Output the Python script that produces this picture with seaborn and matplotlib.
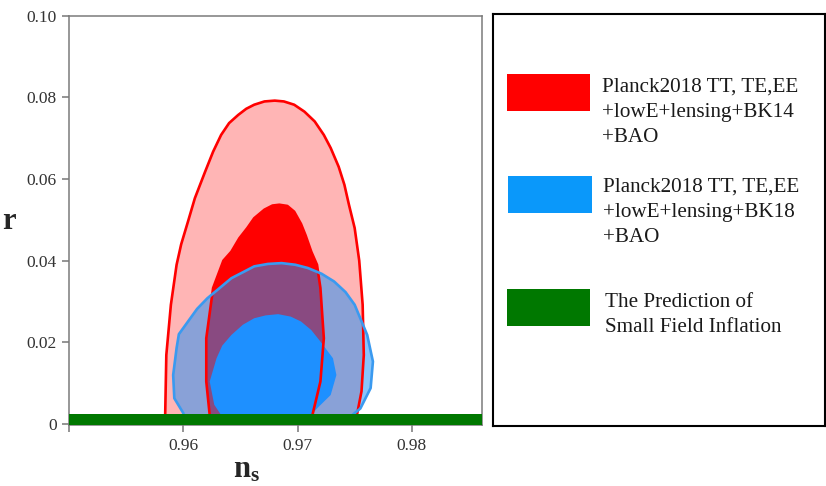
import numpy as np
import pandas as pd
import matplotlib
matplotlib.use("Agg")
import matplotlib.pyplot as plt
import seaborn as sns
from matplotlib.patches import Rectangle

# Contours (n_s, r), closed at r = 0
# Planck2018 + BK14 + BAO, 95% region
bk14_95_ns = [0.9584, 0.9584, 0.9585, 0.9589, 0.9594, 0.9598, 0.9604, 0.9610, 0.9619,
              0.9626, 0.9633, 0.9640, 0.9648, 0.9655, 0.9662, 0.9671, 0.9680, 0.9688,
              0.9697, 0.9706, 0.9715, 0.9723, 0.9729, 0.9736, 0.9741, 0.9745, 0.9750,
              0.9754, 0.9757, 0.9758, 0.9756, 0.9752, 0.9752]
bk14_95_r = [0.0, 0.0022, 0.0169, 0.0292, 0.0390, 0.0440, 0.0496, 0.0553, 0.0618,
             0.0667, 0.0708, 0.0737, 0.0757, 0.0772, 0.0782, 0.0790, 0.0792, 0.0790,
             0.0782, 0.0765, 0.0741, 0.0708, 0.0676, 0.0630, 0.0586, 0.0537, 0.0480,
             0.0400, 0.0292, 0.0169, 0.0080, 0.0022, 0.0]
# Planck2018 + BK14 + BAO, 68% region
bk14_68_ns = [0.9623, 0.9623, 0.9620, 0.9620, 0.9626, 0.9635, 0.9642, 0.9649, 0.9656,
              0.9662, 0.9671, 0.9678, 0.9684, 0.9691, 0.9697, 0.9703, 0.9707, 0.9712,
              0.9717, 0.9720, 0.9723, 0.9720, 0.9713, 0.9713]
bk14_68_r = [0.0, 0.0022, 0.0104, 0.0210, 0.0333, 0.0400, 0.0422, 0.0455, 0.0480,
             0.0504, 0.0525, 0.0535, 0.0537, 0.0534, 0.0520, 0.0490, 0.0462, 0.0422,
             0.0390, 0.0333, 0.0210, 0.0104, 0.0022, 0.0]
# Planck2018 + BK18 + BAO, 95% region
bk18_95_ns = [0.9600, 0.9600, 0.9592, 0.9591, 0.9594, 0.9596, 0.9604, 0.9612, 0.9621,
              0.9642, 0.9662, 0.9674, 0.9686, 0.9698, 0.9709, 0.9721, 0.9732, 0.9742,
              0.9750, 0.9761, 0.9766, 0.9764, 0.9755, 0.9748, 0.9745]
bk18_95_r = [0.0, 0.0026, 0.0063, 0.0120, 0.0186, 0.0220, 0.0251, 0.0282, 0.0308,
             0.0357, 0.0386, 0.0392, 0.0394, 0.0390, 0.0382, 0.0368, 0.0349, 0.0323,
             0.0292, 0.0218, 0.0153, 0.0088, 0.0038, 0.0022, 0.0]
# Planck2018 + BK18 + BAO, 68% region
bk18_68_ns = [0.9633, 0.9633, 0.9627, 0.9623, 0.9629, 0.9634, 0.9642, 0.9652, 0.9662,
              0.9672, 0.9683, 0.9694, 0.9703, 0.9712, 0.9720, 0.9731, 0.9734, 0.9729,
              0.9717, 0.9712, 0.9712]
bk18_68_r = [0.0, 0.0022, 0.0047, 0.0104, 0.0161, 0.0192, 0.0218, 0.0243, 0.0259,
             0.0266, 0.0269, 0.0263, 0.0251, 0.0230, 0.0202, 0.0161, 0.0120, 0.0071,
             0.0038, 0.0022, 0.0]

# small field inflation band: r range
small_field_r = [-0.0005, 0.0025]

xticks = [0.95, 0.96, 0.97, 0.98]
xtick_labels = ["", "0.96", "0.97", "0.98"]
yticks = [0, 0.02, 0.04, 0.06, 0.08, 0.10]
ytick_labels = ["0", "0.02", "0.04", "0.06", "0.08", "0.10"]

legend_labels = ["Planck2018 TT, TE,EE\n+lowE+lensing+BK14\n+BAO",
                 "Planck2018 TT, TE,EE\n+lowE+lensing+BK18\n+BAO",
                 "The Prediction of\nSmall Field Inflation"]
legend_colors = ["#ff0000", "#0a98fa", "#007800"]

sns.set_style("ticks")
plt.rcParams['font.family'] = ['Liberation Serif', 'DejaVu Serif']
plt.rcParams['mathtext.fontset'] = 'custom'
plt.rcParams['mathtext.bf'] = 'Liberation Serif:bold'

fig = plt.figure(figsize=(8.26, 4.86), dpi=100)
ax = fig.add_axes([69.3 / 826, 61 / 486, 413.2 / 826, 409.3 / 486])

# fills
ax.fill(bk14_95_ns, bk14_95_r, color="#ffb5b5", lw=0, zorder=1)
ax.fill(bk14_68_ns, bk14_68_r, color="#ff0000", lw=0, zorder=2)
ax.fill(bk18_95_ns, bk18_95_r, color="#1e8ff8", alpha=0.52, lw=0, zorder=3)
ax.fill(bk18_68_ns, bk18_68_r, color="#1e90ff", lw=0, zorder=4)

# outlines
for xs, ys, col, z in [(bk14_95_ns, bk14_95_r, "#ff0000", 5),
                       (bk14_68_ns, bk14_68_r, "#ff0000", 5),
                       (bk18_95_ns, bk18_95_r, "#3a9af0", 6)]:
    df = pd.DataFrame({"ns": xs + xs[:1], "r": ys + ys[:1]})
    sns.lineplot(data=df, x="ns", y="r", sort=False, estimator=None,
                 color=col, lw=1.9, ax=ax, zorder=z)
for line in ax.lines:
    line.set_solid_joinstyle("round")

# small field prediction
ax.axhspan(small_field_r[0], small_field_r[1], color="#007800", lw=0, zorder=8)

ax.set_xlim(0.95, 0.9862)
ax.set_ylim(-0.00025, 0.1)
ax.set_xticks(xticks)
ax.set_xticklabels(xtick_labels)
ax.set_yticks(yticks)
ax.set_yticklabels(ytick_labels)
ax.tick_params(colors="#777777", labelcolor="#333333", labelsize=12.5,
               length=5, width=1.1, pad=4)
for s in ax.spines.values():
    s.set_color("#7a7a7a")
    s.set_linewidth(1.1)
    s.set_visible(True)

ax.set_xlabel(r"$\mathbf{n_s}$", fontsize=22)
ax.xaxis.set_label_coords(0.428, -0.074)
ax.set_ylabel("r", fontsize=22, fontweight="bold", rotation=0, va="center", ha="center")
ax.yaxis.set_label_coords(-0.147, 0.497)

# legend panel
lax = fig.add_axes([493 / 826, 60 / 486, 332 / 826, 412 / 486])
lax.set_xlim(0, 332)
lax.set_ylim(412, 0)
lax.set_xticks([])
lax.set_yticks([])
for s in lax.spines.values():
    s.set_color("black")
    s.set_linewidth(1.5)
    s.set_visible(True)

patch_pos = [(13.7, 60), (15.3, 161.7), (13.7, 275.3)]
text_pos = [(108.7, 63.5), (109.7, 163.5), (112, 278.5)]
for lab, col, (px, py), (tx, ty) in zip(legend_labels, legend_colors, patch_pos, text_pos):
    lax.add_patch(Rectangle((px, py), 83.3, 37, color=col, lw=0))
    lax.text(tx, ty, lab, fontsize=15.2, color="#1a1a1a", va="top",
             ha="left", linespacing=1.45)

fig.savefig("out.png", dpi=100)
